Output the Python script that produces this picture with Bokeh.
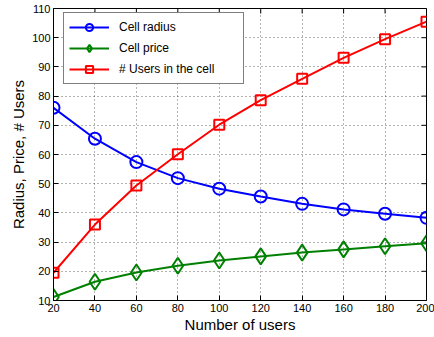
import math
from bokeh.plotting import figure
from bokeh.models import FixedTicker, Range1d, Legend, LegendItem
from bokeh.embed import file_html
from bokeh.resources import INLINE

users = [20, 40, 60, 80, 100, 120, 140, 160, 180, 200]
cell_radius = [76.0, 65.4, 57.4, 51.9, 48.3, 45.6, 43.1, 41.2, 39.7, 38.3]
cell_price = [11.2, 16.4, 19.6, 21.9, 23.7, 25.1, 26.4, 27.5, 28.6, 29.6]
users_in_cell = [19.5, 36.0, 49.4, 60.1, 70.2, 78.6, 85.9, 93.1, 99.5, 105.5]
x_ticks = [20, 40, 60, 80, 100, 120, 140, 160, 180, 200]
y_ticks = [10, 20, 30, 40, 50, 60, 70, 80, 90, 100, 110]
x_min, x_max = 20, 200
y_min, y_max = 10, 110

FONT = "Liberation Sans"

p = figure(width=434, height=337, output_backend="svg", toolbar_location=None,
           x_range=Range1d(x_min, x_max), y_range=Range1d(y_min, y_max),
           min_border_left=53, min_border_right=8, min_border_top=8, min_border_bottom=37,
           background_fill_color="white", border_fill_color="white")

p.outline_line_color = "black"
p.outline_line_width = 1

for ax in [p.xaxis[0], p.yaxis[0]]:
    ax.major_tick_in = 5
    ax.major_tick_out = 0
    ax.minor_tick_line_color = None
    ax.major_label_text_font = FONT
    ax.major_label_text_font_size = "11px"
    ax.major_label_text_color = "black"
    ax.axis_line_color = "black"
    ax.axis_label_text_font = FONT
    ax.axis_label_text_font_size = "15px"
    ax.axis_label_text_font_style = "normal"
    ax.axis_label_text_color = "black"

p.xaxis[0].ticker = FixedTicker(ticks=x_ticks)
p.yaxis[0].ticker = FixedTicker(ticks=y_ticks)
p.xaxis[0].axis_label = "Number of users"
p.yaxis[0].axis_label = "Radius, Price, # Users"
p.xaxis[0].major_label_standoff = 3
p.yaxis[0].major_label_standoff = 3
p.xaxis[0].axis_label_standoff = 1
p.yaxis[0].axis_label_standoff = 2

p.xgrid.ticker = FixedTicker(ticks=x_ticks)
p.ygrid.ticker = FixedTicker(ticks=y_ticks)
for g in [p.xgrid[0], p.ygrid[0]]:
    g.grid_line_color = "black"
    g.grid_line_alpha = 0.6
    g.grid_line_dash = "1 3"
    g.grid_line_width = 1

# mirrored inward ticks on top and right edges (half of each dash is clipped by the frame)
p.scatter(x_ticks, [y_max] * len(x_ticks), marker="dash", size=10, angle=math.pi / 2,
          line_color="black", line_width=1)
p.scatter([x_max] * len(y_ticks), y_ticks, marker="dash", size=10,
          line_color="black", line_width=1)

r1l = p.line(users, cell_radius, line_color="blue", line_width=2)
r1s = p.scatter(users, cell_radius, marker="circle", size=12, line_color="blue",
                fill_color=None, line_width=2)
r2l = p.line(users, cell_price, line_color="green", line_width=2)
r2s = p.scatter(users, cell_price, marker="diamond", size=16, line_color="green",
                fill_color=None, line_width=2)
r3l = p.line(users, users_in_cell, line_color="red", line_width=2)
r3s = p.scatter(users, users_in_cell, marker="square", size=10, line_color="red",
                fill_color=None, line_width=2)

legend = Legend(items=[
    LegendItem(label="Cell radius", renderers=[r1l, r1s]),
    LegendItem(label="Cell price", renderers=[r2l, r2s]),
    LegendItem(label="# Users in the cell", renderers=[r3l, r3s]),
], location=(10, 216))
legend.border_line_color = "black"
legend.border_line_width = 1
legend.label_text_font = FONT
legend.label_text_font_size = "12px"
legend.label_text_color = "black"
legend.glyph_width = 40
legend.glyph_height = 18
legend.label_height = 18
legend.label_width = 119
legend.spacing = 3
legend.padding = 5
legend.label_standoff = 10
legend.margin = 0
legend.background_fill_alpha = 1
p.add_layout(legend, "center")

open("out.html", "w").write(file_html(p, INLINE))
